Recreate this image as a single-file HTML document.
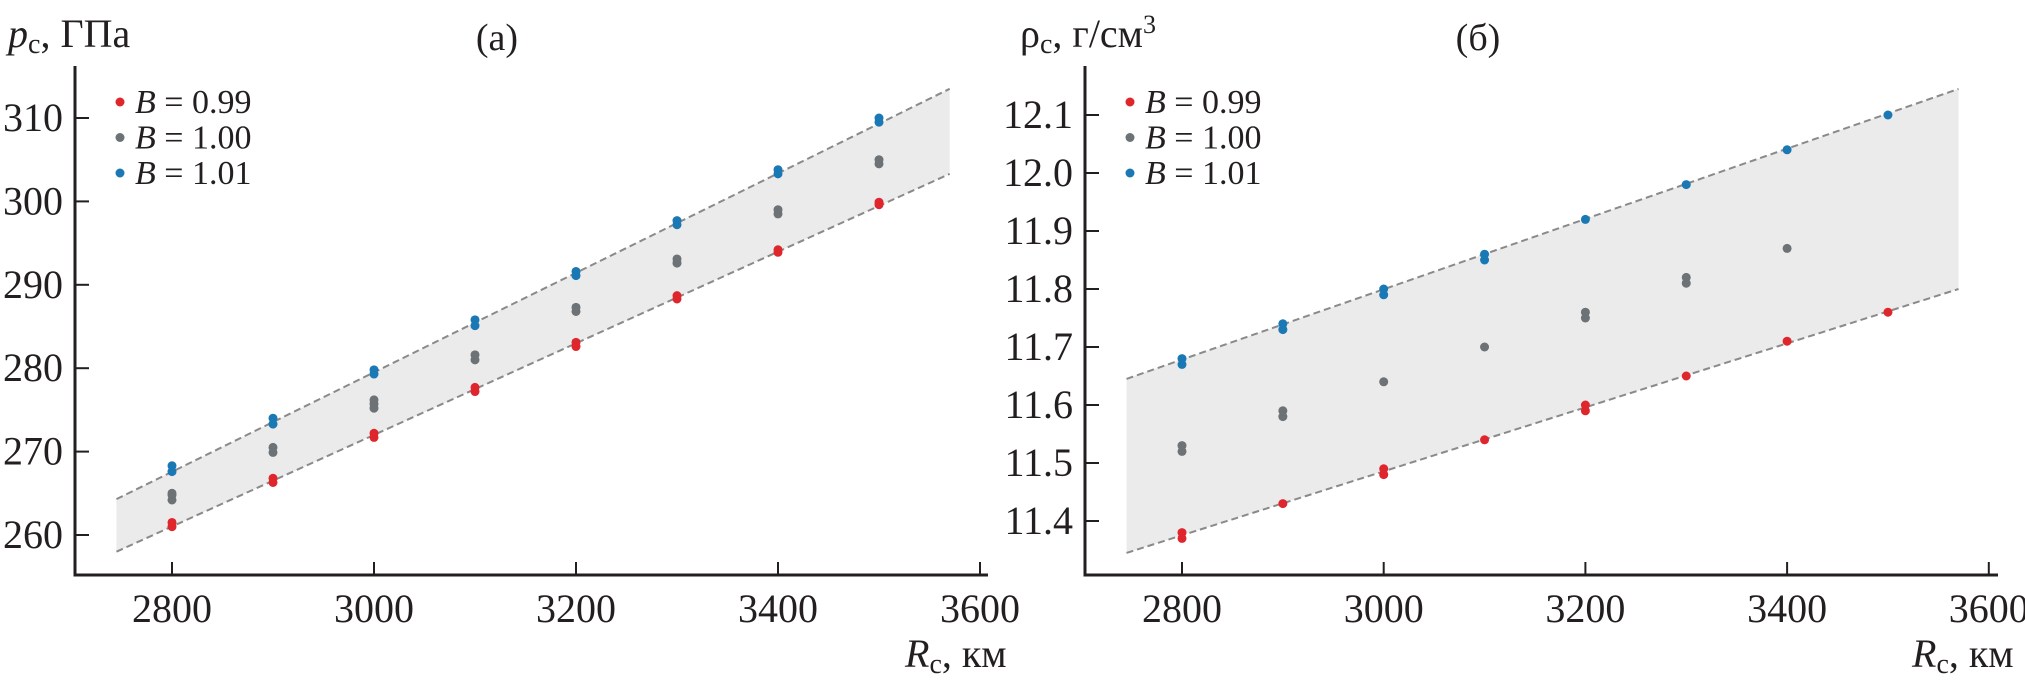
<!DOCTYPE html>
<html><head><meta charset="utf-8">
<style>
html,body{margin:0;padding:0;background:#fff;}
svg{display:block;font-family:"Liberation Serif","DejaVu Serif",serif;}
</style></head>
<body>
<svg id="chart" width="2025" height="690" viewBox="0 0 2025 690" xmlns="http://www.w3.org/2000/svg">
<g id="panelA"></g>
<g id="panelB"></g>
</svg>
<script>
// ---- data ----
const xTicks = [2800, 3000, 3200, 3400, 3600];
const xCats = [2800, 2900, 3000, 3100, 3200, 3300, 3400, 3500];
const seriesNames = ["B = 0.99", "B = 1.00", "B = 1.01"];
const seriesColors = ["#e0262d", "#6c7275", "#1a78b4"];

// panel (a): p_c, GPa — each category has one or more points
const pRed  = [[261.0,261.5],[266.3,266.8],[271.7,272.2],[277.2,277.7],[282.6,283.1],[288.3,288.7],[293.9,294.2],[299.6,299.9]];
const pGray = [[264.2,264.8,265.0],[269.9,270.5],[275.2,275.7,276.2],[281.0,281.6],[286.8,287.3],[292.6,293.1],[298.5,299.0],[304.5,305.0]];
const pBlue = [[267.6,268.3],[273.3,274.0],[279.3,279.8],[285.1,285.8],[291.1,291.6],[297.2,297.7],[303.3,303.8],[309.5,310.0]];
const pTicks = [260, 270, 280, 290, 300, 310];
const pBandX = [2745, 3570];
const pBandUpper = [264.3, 313.5];
const pBandLower = [258.0, 303.3];

// panel (b): rho_c, g/cm3
const rRed  = [[11.37,11.38],[11.43],[11.48,11.49],[11.54],[11.59,11.60],[11.65],[11.71],[11.76]];
const rGray = [[11.52,11.53],[11.58,11.59],[11.64],[11.70],[11.75,11.76],[11.81,11.82],[11.87],[]];
const rBlue = [[11.67,11.68],[11.73,11.74],[11.79,11.80],[11.85,11.86],[11.92],[11.98],[12.04],[12.10]];
const rTicks = [11.4, 11.5, 11.6, 11.7, 11.8, 11.9, 12.0, 12.1];
const rTickLabels = ["11.4","11.5","11.6","11.7","11.8","11.9","12.0","12.1"];
const rBandX = [2745, 3570];
const rBandUpper = [11.645, 12.145];
const rBandLower = [11.345, 11.80];

const NS = "http://www.w3.org/2000/svg";
function mk(tag, attrs, parent){ const e=document.createElementNS(NS,tag); for(const k in attrs) e.setAttribute(k,attrs[k]); parent.appendChild(e); return e; }

function drawPanel(g, cfg){
  const X = v => cfg.x0 + (v-2800)/200*cfg.xs;
  const Y = v => cfg.y0 - (v-cfg.yv0)/cfg.yd*cfg.ys;
  // band
  const band = mk("polygon",{points:`${X(cfg.bx[0])},${Y(cfg.bu[0])} ${X(cfg.bx[1])},${Y(cfg.bu[1])} ${X(cfg.bx[1])},${Y(cfg.bl[1])} ${X(cfg.bx[0])},${Y(cfg.bl[0])}`,fill:"#ebebeb"},g);
  
  
  const up = mk("line",{x1:X(cfg.bx[0]),y1:Y(cfg.bu[0]),x2:X(cfg.bx[1]),y2:Y(cfg.bu[1]),stroke:"#8a8a8a","stroke-width":2,"stroke-dasharray":"7,4"},g);
  
  
  const lo = mk("line",{x1:X(cfg.bx[0]),y1:Y(cfg.bl[0]),x2:X(cfg.bx[1]),y2:Y(cfg.bl[1]),stroke:"#8a8a8a","stroke-width":2,"stroke-dasharray":"7,4"},g);
  
  
  // points
  cfg.series.forEach((s,si)=>{
    s.forEach((vals,ci)=>{
      vals.forEach(v=>{
        const c = mk("circle",{cx:X(xCats[ci]),cy:Y(v),r:4.5,fill:seriesColors[si]},g);
        
        
      });
    });
  });
  // axes
  const ya = mk("line",{x1:cfg.ax,y1:66,x2:cfg.ax,y2:576,stroke:"#231f20","stroke-width":3},g);
  
  
  const xa = mk("line",{x1:cfg.ax-1.5,y1:575,x2:cfg.axEnd,y2:575,stroke:"#231f20","stroke-width":3},g);
  
  
  xTicks.forEach(t=>{
    const tk = mk("line",{x1:X(t),y1:575,x2:X(t),y2:562,stroke:"#231f20","stroke-width":2},g);
    
    
    const tl = mk("text",{x:X(t),y:622,"text-anchor":"middle","font-size":40,fill:"#231f20"},g);
    tl.textContent = t;
    
    
  });
  cfg.yt.forEach((t,i)=>{
    const tk = mk("line",{x1:cfg.ax,y1:Y(t),x2:cfg.ax+14,y2:Y(t),stroke:"#231f20","stroke-width":2},g);
    
    
    const tl = mk("text",{x:cfg.ax-12,y:Y(t)+13,"text-anchor":"end","font-size":40,fill:"#231f20"},g);
    tl.textContent = cfg.ytl[i];
    
    
  });
  // legend
  seriesNames.forEach((n,i)=>{
    const cy = 102 + i*35.5;
    const d = mk("circle",{cx:cfg.ax+45,cy:cy,r:4.5,fill:seriesColors[i]},g);
    
    
    const t = mk("text",{x:cfg.ax+60,y:cy+11,"font-size":34,fill:"#231f20"},g);
    t.innerHTML = '<tspan font-style="italic">B</tspan> = ' + n.split('= ')[1];
    
    
  });
}

drawPanel(document.getElementById('panelA'),{x0:172,xs:202,y0:535,yv0:260,yd:10,ys:83.4,ax:75,axEnd:988,
  bx:pBandX,bu:pBandUpper,bl:pBandLower,series:[pRed,pGray,pBlue],yt:pTicks,ytl:pTicks.map(String)});
drawPanel(document.getElementById('panelB'),{x0:1182,xs:201.7,y0:521,yv0:11.4,yd:0.1,ys:58,ax:1085,axEnd:1998,
  bx:rBandX,bu:rBandUpper,bl:rBandLower,series:[rRed,rGray,rBlue],yt:rTicks,ytl:rTickLabels});
</script>
<svg style="position:absolute;left:0;top:0" width="2025" height="690">
<text x="8" y="47" font-size="40" fill="#231f20"><tspan font-style="italic">p</tspan><tspan font-size="28" dy="6">c</tspan><tspan dy="-6">, ГПа</tspan></text>
<text x="497" y="50" font-size="38" text-anchor="middle" fill="#231f20">(а)</text>
<text x="905" y="667" font-size="40" fill="#231f20"><tspan font-style="italic">R</tspan><tspan font-size="28" dy="6">c</tspan><tspan dy="-6">, км</tspan></text>
<text x="1020" y="47" font-size="40" fill="#231f20">ρ<tspan font-size="28" dy="6">c</tspan><tspan dy="-6">, г/см</tspan><tspan font-size="26" dy="-14">3</tspan></text>
<text x="1478" y="50" font-size="38" text-anchor="middle" fill="#231f20">(б)</text>
<text x="1912" y="667" font-size="40" fill="#231f20"><tspan font-style="italic">R</tspan><tspan font-size="28" dy="6">c</tspan><tspan dy="-6">, км</tspan></text>
</svg>
</body></html>
